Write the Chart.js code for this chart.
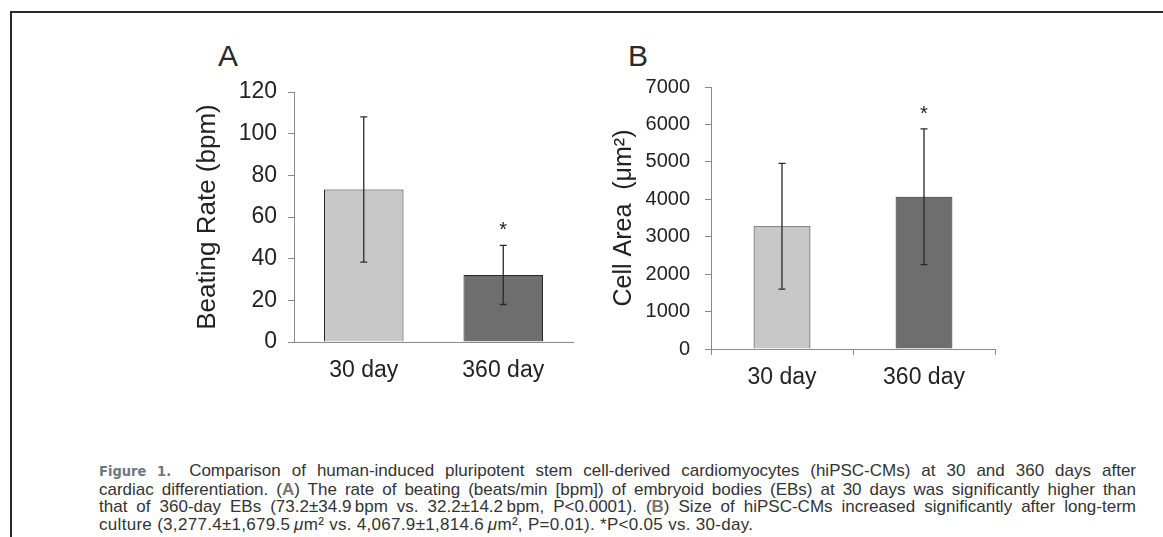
<!DOCTYPE html>
<html>
<head>
<meta charset="utf-8">
<script src="https://cdn.jsdelivr.net/npm/chart.js@4.4.0/dist/chart.umd.min.js"></script>
<style>
  body { margin: 0; background: #fff; width: 1163px; height: 537px; overflow: hidden; position: relative; font-family: "Liberation Sans", Arial, sans-serif; }
  .frame { position: absolute; left: 10px; top: 11px; width: 1160px; height: 540px; border-top: 2px solid #2a2a2a; border-left: 2px solid #2a2a2a; }
  .panel { position: absolute; font-size: 30px; line-height: 30px; color: #2a2a2a; }
  canvas { position: absolute; }
  .caption { position: absolute; left: 99px; top: 462px; width: 1037px; font-size: 17px; line-height: 17.7px; color: #333; }
  .caption div { white-space: nowrap; }
  .caption .j { text-align: justify; text-align-last: justify; }
  .caption .last { letter-spacing: 0.3px; }
  .fig { font-family: "DejaVu Sans Condensed", "Liberation Sans Narrow", sans-serif; font-stretch: condensed; font-weight: bold; font-size: 14.5px; color: #6f7680; margin-right: 18px; }
  .caption b { color: #777; }
</style>
</head>
<body>
<div class="frame"></div>
<div class="panel" style="left:218px; top:41px;">A</div>
<div class="panel" style="left:628px; top:41px;">B</div>
<canvas id="rateChart" width="440" height="340" style="left:150px; top:50px;"></canvas>
<canvas id="areaChart" width="420" height="340" style="left:600px; top:50px;"></canvas>
<div class="caption">
  <div class="j"><span class="fig">Figure&nbsp;1.</span>Comparison of human-induced pluripotent stem cell-derived cardiomyocytes (hiPSC-CMs) at 30 and 360 days after</div>
  <div class="j">cardiac differentiation. (<b>A</b>) The rate of beating (beats/min [bpm]) of embryoid bodies (EBs) at 30 days was significantly higher than</div>
  <div class="j">that of 360-day EBs (73.2±34.9&thinsp;bpm vs. 32.2±14.2&thinsp;bpm, P&lt;0.0001). (<b>B</b>) Size of hiPSC-CMs increased significantly after long-term</div>
  <div class="last">culture (3,277.4±1,679.5&thinsp;<i>μ</i>m² vs. 4,067.9±1,814.6&thinsp;<i>μ</i>m², P=0.01). *P&lt;0.05 vs. 30-day.</div>
</div>
<script>
const categories = ["30 day", "360 day"];
const rateMean = [73.2, 32.2];
const rateSd = [34.9, 14.2];
const areaMean = [3277.4, 4067.9];
const areaSd = [1679.5, 1814.6];
const significant = [false, true];
const barColors = ["#c8c8c8", "#6e6e6e"];

const axisGray = "#8a8a8a";
const textColor = "#222";
const family = "'Liberation Sans', Arial, sans-serif";

// error bars + asterisks, drawn through the chart's own scales
const errorBars = {
  id: "errorBars",
  afterDatasetsDraw(chart) {
    const ctx = chart.ctx;
    const ds = chart.data.datasets[0];
    const yScale = chart.scales.y;
    const meta = chart.getDatasetMeta(0);
    ctx.save();
    ctx.strokeStyle = "#2a2a2a";
    ctx.lineWidth = 1.3;
    meta.data.forEach((bar, i) => {
      const x = bar.x;
      const hi = yScale.getPixelForValue(ds.data[i] + ds.errors[i]);
      const lo = yScale.getPixelForValue(ds.data[i] - ds.errors[i]);
      ctx.beginPath();
      ctx.moveTo(x, lo);
      ctx.lineTo(x, hi);
      ctx.moveTo(x - 3.5, hi);
      ctx.lineTo(x + 3.5, hi);
      ctx.moveTo(x - 3.5, lo);
      ctx.lineTo(x + 3.5, lo);
      ctx.stroke();
      if (ds.stars[i]) {
        ctx.fillStyle = textColor;
        ctx.font = "20px " + family;
        ctx.textAlign = "center";
        ctx.textBaseline = "alphabetic";
        ctx.fillText("*", x, hi - 9);
      }
    });
    ctx.restore();
  }
};

function barChart(id, opts) {
  return new Chart(document.getElementById(id), {
    type: "bar",
    data: {
      labels: categories,
      datasets: [{
        data: opts.mean,
        errors: opts.sd,
        stars: significant,
        backgroundColor: barColors,
        borderColor: "#2a2a2a",
        borderWidth: 1,
        barPercentage: opts.barPct,
        categoryPercentage: 1,
      }],
    },
    options: {
      responsive: false,
      animation: false,
      layout: { padding: opts.padding },
      plugins: { legend: { display: false }, tooltip: { enabled: false } },
      scales: {
        x: {
          grid: opts.xGrid,
          border: { color: axisGray, width: 1 },
          ticks: { color: textColor, font: { size: 23, family }, padding: opts.xPad },
          afterFit: (s) => { s.height = 40; },
        },
        y: {
          min: 0,
          max: opts.max,
          ticks: {
            stepSize: opts.step,
            color: textColor,
            font: { size: opts.yFont, family },
            padding: opts.yPad,
            callback: (v) => String(v),
          },
          grid: { drawOnChartArea: false, color: axisGray, tickLength: 6 },
          border: { color: axisGray, width: 1 },
          title: {
            display: true,
            text: opts.title,
            color: textColor,
            font: { size: opts.titleFont, family },
            padding: { top: opts.titlePad, bottom: 0 },
          },
          afterFit: (s) => { s.width = opts.yWidth; },
        },
      },
    },
    plugins: [errorBars],
  });
}

barChart("rateChart", {
  mean: rateMean, sd: rateSd, max: 120, step: 20,
  barPct: 0.57, yFont: 23, yPad: 11, xPad: 15,
  xGrid: { display: false, drawTicks: false },
  title: "Beating Rate (bpm)", titleFont: 26, titlePad: 42, yWidth: 144,
  padding: { top: 42, right: 17, bottom: 8, left: 0 },
});

barChart("areaChart", {
  mean: areaMean, sd: areaSd, max: 7000, step: 1000,
  barPct: 0.4, yFont: 20, yPad: 15, xPad: 9,
  xGrid: { drawOnChartArea: false, color: axisGray, tickLength: 6 },
  title: "Cell Area  (μm²)", titleFont: 25, titlePad: 9, yWidth: 111,
  padding: { top: 37, right: 25, bottom: 1, left: 0 },
});
</script>
</body>
</html>
